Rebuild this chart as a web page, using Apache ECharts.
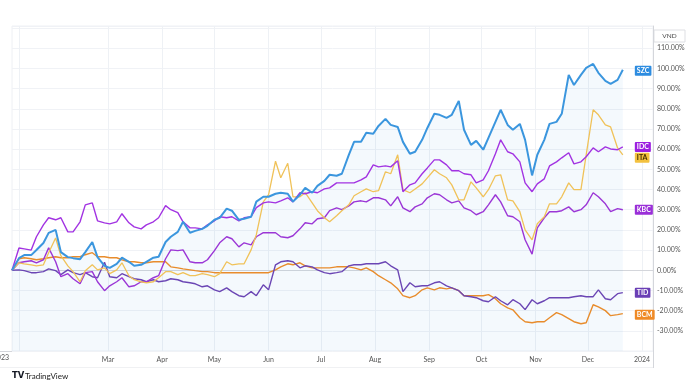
<!DOCTYPE html>
<html><head><meta charset="utf-8">
<script src="https://cdn.jsdelivr.net/npm/echarts@6.0.0/dist/echarts.min.js"></script>
<style>html,body{margin:0;padding:0;background:#fff}#c{width:692px;height:384px}</style>
</head><body><div id="c"></div>
<script>
const dates = ['2023-01-05','2023-01-09','2023-01-12','2023-01-16','2023-01-19','2023-01-23','2023-01-26','2023-01-30','2023-02-02','2023-02-06','2023-02-09','2023-02-13','2023-02-16','2023-02-20','2023-02-23','2023-02-27','2023-03-02','2023-03-06','2023-03-09','2023-03-13','2023-03-16','2023-03-20','2023-03-23','2023-03-27','2023-03-30','2023-04-03','2023-04-06','2023-04-10','2023-04-13','2023-04-17','2023-04-20','2023-04-24','2023-04-27','2023-05-01','2023-05-04','2023-05-08','2023-05-11','2023-05-15','2023-05-18','2023-05-22','2023-05-25','2023-05-29','2023-06-01','2023-06-05','2023-06-08','2023-06-12','2023-06-15','2023-06-19','2023-06-22','2023-06-26','2023-06-29','2023-07-03','2023-07-06','2023-07-10','2023-07-13','2023-07-17','2023-07-20','2023-07-24','2023-07-27','2023-07-31','2023-08-03','2023-08-07','2023-08-10','2023-08-14','2023-08-17','2023-08-21','2023-08-24','2023-08-28','2023-08-31','2023-09-04','2023-09-07','2023-09-11','2023-09-14','2023-09-18','2023-09-21','2023-09-25','2023-09-28','2023-10-02','2023-10-05','2023-10-09','2023-10-12','2023-10-16','2023-10-19','2023-10-23','2023-10-26','2023-10-30','2023-11-02','2023-11-06','2023-11-09','2023-11-13','2023-11-16','2023-11-20','2023-11-23','2023-11-27','2023-11-30','2023-12-04','2023-12-07','2023-12-11','2023-12-14','2023-12-18','2023-12-21'];

const SZC = [0,6,7.5,7.5,10,13.5,18.5,20,9,6.5, 6,5.5,9,14,6.5,2.2,1.2,3.2,6.2,4.2, 2.2,2.7,4.2,6.2,6.7,14,16.6,19,24,18.6, 19.5,20.5,22,25,26,30.5,29.5,25,25.5,26.5, 34,36.4,36.4,37.9,38.4,37.9,34,37.4,40.8,38.4, 41.8,44.3,47.3,46.8,47.8,57.2,63.6,63.6,68.1,67.6, 71.5,75,72,71,63.6,57.7,58.7,64.6,70.5,77.5, 77,75.5,77,83.9,69.6,62.1,64.1,59.7,65.6,73.5, 79.5,72,69.6,72.5,64.6,47,57.2,64.6,72.5,73.5, 77.5,96.8,91.8,96.8,100.3,102.2,97.8,93.8,92.3,94.3,99.3];
const IDC = [0,11,10.6,10,16.6,22.5,26,25,26,19, 19,24,32.4,33.4,24.5,23.5,23,24,28,23.5, 21.5,20.5,22.5,24,26,32,30,28.5,24,21, 21,20.5,22.5,24.5,26.5,26,26.5,24.5,26,26.5, 31,33.4,33.9,33.4,34.4,35.9,33.9,38.4,37.9,38.9, 38.4,40.3,40.8,43.3,43.3,43.3,43.3,44.8,46.3,52.2, 51.2,51.7,51.2,54.2,38.9,42.3,43.3,47.8,50.7,54.7, 54.7,52.2,49.3,49.3,47.8,47.3,43.3,44.8,49.3,57.7, 64.6,58.7,57.7,53.7,43.3,38.9,42.8,45.3,51.7,53.7, 55.7,58.2,52.7,53.7,56.2,60.6,58.7,61.1,60.1,59.7,61.1];
const ITA = [0,3.7,3.2,2.7,2.2,2.7,8.7,16,7.2,2.2, -0.7,-5.7,-0.2,2.7,0.2,1.2,-1.7,0.2,3.7,-2.7, -4.7,-5.7,-6.2,-5.7,-3.7,-0.7,-0.7,-2.2,-1.2,-2.7, -2.7,-1.7,-2.2,-3.2,-1.7,4.2,2.7,3.2,3.2,10.1, 17.6,33.9,37.4,54,45.8,53,36.4,36.4,38.4,33.4, 29.5,26,24,27,29.5,32.4,36.9,38.9,40.3,38.9, 39.4,48.8,47.8,57.2,39.9,38.4,40.3,42.8,45.8,49.8, 47.8,45.8,42.3,34.9,34.9,43.8,40.8,36.4,39.9,46.8, 47.3,34.9,34.4,29,20,15.1,23,26.5,32.9,32.9, 36.4,43.3,39.9,39.9,57.2,79.5,77,72,71,60.6,57.2];
const KBC = [0,3.7,4.2,4.7,3.7,5.2,11.1,4.2,-3.2,-1.7, -4.2,-6.7,-1.2,-0.7,-5.7,-10.1,-7.7,-5.7,-3.7,-8.2, -7.7,-5.7,-5.7,-3.7,-2.7,5.7,10.1,9.7,10.1,4.2, 3.7,3.7,5.2,9.7,13.6,16.6,15.6,11.6,13.6,12.6, 16.6,18.6,18.6,18.6,16.6,16.1,17.1,20.5,23.5,23, 25.5,26,29.5,30.9,30,31.9,33.9,34.4,33.9,35.9, 35.9,34.9,31.9,36.4,30.9,29,31.4,32.9,35.9,37.9, 37.4,34.9,33.4,34.4,30.9,29.5,27.5,29,32.4,37.4, 33.9,27,26.5,24,15.1,8,21,26,29,29, 29.5,31.4,29,30,32.4,38.4,36.4,32.9,29,30.5,30];
const TID = [0,0.2,-0.2,-1.2,-1.2,-0.7,0.7,-0.2,-2.2,0.2, -1.2,-2.2,-1.2,-3.2,-3.7,4,-3.2,-3.7,-1.7,-3.2, -4.2,-4.7,-5.7,-4.7,-5.7,-5.2,-4.2,-4.7,-5.7,-6.2, -6.7,-8.2,-7.7,-9.7,-10.6,-8.7,-10.6,-12.6,-13.1,-10.6, -12.6,-7.2,-9.7,2.7,4.2,4.7,4.2,1.2,2.2,1.7, 0.2,-1.2,-1.7,-1.2,-0.7,2.2,2.7,2.7,3.2,3.2, 3.2,4.2,2.2,0.2,-10.6,-6.2,-8.2,-7.7,-7.7,-6.2, -5.7,-7.7,-8.7,-10.1,-12.6,-13.1,-13.6,-15.1,-15.6,-13.1, -15.1,-17.1,-14.6,-16.6,-19.5,-14.6,-16.6,-15.1,-13.6,-13.6, -13.6,-13.6,-13.1,-12.6,-13.1,-13.1,-9.7,-14.1,-14.6,-11.6,-11.1];
const BCM = [0,5.7,6.2,5.7,5.2,5.7,6.2,6.7,6.2,6.2, 6.7,6.7,7.7,8.7,6.7,6.7,6.2,6.2,5.2,4.2, 4.2,3.7,3.7,4.2,4.2,4.2,1.7,1.2,0.7,0.2, -0.2,-0.7,-0.7,-1.2,-1.2,-1.2,-1.2,-1.2,-1.2,-1.2, -1.2,-1.2,-1.2,0.2,1.7,3.2,2.7,3.7,2.2,1.2, 1.2,1.2,1.2,1.7,1.7,1.7,1.2,0.2,1.2,-0.7, -2.7,-4.7,-6.2,-9.2,-12.6,-13.6,-12.6,-9.7,-8.7,-9.7, -8.7,-9.2,-8.7,-10.1,-12.6,-12.6,-12.6,-12.6,-12.1,-14.1, -16.6,-18.6,-19.6,-23.5,-25.5,-26,-25.5,-25.5,-23.5,-21, -22,-24,-25.5,-26.5,-26,-17.1,-18.1,-20,-22.5,-22,-21.5];

const monthNames = ['Jan','Feb','Mar','Apr','May','Jun','Jul','Aug','Sep','Oct','Nov','Dec'];
const gridDates = ['2023-01-09','2023-03-01','2023-04-01','2023-05-01','2023-06-01','2023-07-01','2023-08-01','2023-09-01','2023-10-01','2023-11-01','2023-12-01','2024-01-01'];
const firstYearLabel = '2023';

const P = s => echarts.number.parseDate(s).getTime();
const pairs = arr => dates.map((d, i) => [d, arr[i]]);
const DAY = 86400000;

function mkLine(name, arr, color, tagBg, tagText, width, dy, z) {
  return {
    name, type: 'line', data: pairs(arr), showSymbol: false, symbol: 'none', z,
    lineStyle: { color, width }, itemStyle: { color },
    emphasis: { disabled: true },
    endLabel: {
      show: true, formatter: name, color: tagText, backgroundColor: tagBg,
      fontSize: 7, fontWeight: 'bold', fontFamily: 'Lato, sans-serif',
      padding: [2, 2, 1, 2], borderRadius: 1, distance: 12, offset: [0, dy]
    }
  };
}

const chart = echarts.init(document.getElementById('c'), null, { renderer: 'canvas' });
chart.setOption({
  animation: false,
  backgroundColor: '#ffffff',
  grid: { left: 12, right: 39, top: 26, bottom: 33, containLabel: false, show: true, borderColor: '#eef0f4', borderWidth: 1 },
  xAxis: {
    type: 'time', min: P('2023-01-05'), max: P('2024-01-07 07:00'),
    minInterval: 28 * DAY, maxInterval: 31 * DAY,
    axisLine: { show: true, lineStyle: { color: '#d4d6db' } },
    axisTick: { show: false },
    splitLine: { show: false },
    axisLabel: {
      color: '#555', fontSize: 7, margin: 5, fontFamily: 'Lato, sans-serif',
      formatter: v => {
        const d = new Date(v);
        const m = d.getMonth();
        if (d.getDate() !== 1 || m === 1) return '';
        if (m === 0) return String(d.getFullYear());
        return monthNames[m];
      }
    }
  },
  yAxis: {
    type: 'value', position: 'right', min: -40, max: 121, interval: 10,
    axisLine: { show: true, lineStyle: { color: '#d4d6db' } },
    axisTick: { show: false },
    splitLine: { show: true, lineStyle: { color: '#f0f2f6' } },
    axisLabel: {
      color: '#555', fontSize: 7, margin: 4, fontFamily: 'Lato, sans-serif',
      formatter: v => (v < -30 || v > 110) ? '' : v.toFixed(2) + '%'
    }
  },
  series: [
    { name: 'grid', type: 'line', data: [], z: 0, silent: true,
      markLine: { silent: true, z: 0, zlevel: 0, symbol: 'none', label: { show: false },
        lineStyle: { color: '#eef1f5', width: 1, type: 'solid' },
        data: gridDates.map(d => ({ xAxis: P(d) })) } },
    { name: 'SZC area', type: 'line', data: pairs(SZC), showSymbol: false, symbol: 'none', z: 1, silent: true,
      lineStyle: { width: 0, opacity: 0 }, areaStyle: { color: 'rgba(41,140,220,0.07)', origin: 'start' } },
    mkLine('BCM', BCM, '#e88c2c', '#ef8a26', '#ffffff', 1.4, 1, 2),
    mkLine('TID', TID, '#6b46b4', '#6a3fb5', '#ffffff', 1.4, 0, 3),
    mkLine('KBC', KBC, '#9b36d6', '#9a2fd8', '#ffffff', 1.4, 0, 4),
    mkLine('ITA', ITA, '#f0c259', '#f3c13f', '#3b2a00', 1.3, 3, 5),
    mkLine('IDC', IDC, '#a233e2', '#9c1fe0', '#ffffff', 1.4, 0, 6),
    mkLine('SZC', SZC, '#3b96de', '#2d8ce0', '#ffffff', 2, 1, 7)
  ],
  graphic: [
    { type: 'rect', shape: { x: 654, y: 30, width: 31, height: 12 }, style: { fill: '#fff', stroke: '#dedfe3', lineWidth: 1 } },
    { type: 'text', x: 669.5, y: 36, style: { text: 'VND', fill: '#444', fontSize: 6.5, fontFamily: 'Lato, sans-serif', align: 'center', verticalAlign: 'middle' } },
    { type: 'text', x: 9, y: 357.5, style: { text: firstYearLabel, fill: '#555', fontSize: 7, fontFamily: 'Lato, sans-serif', align: 'right', verticalAlign: 'middle' } },
    { type: 'line', shape: { x1: 0, y1: 351.5, x2: 12, y2: 351.5 }, style: { stroke: '#d4d6db', lineWidth: 1 } },
    { type: 'line', shape: { x1: 653.5, y1: 351, x2: 653.5, y2: 368 }, style: { stroke: '#d4d6db', lineWidth: 1 } },
    { type: 'line', shape: { x1: 0, y1: 367.5, x2: 653, y2: 367.5 }, style: { stroke: '#f0f1f3', lineWidth: 1 } },
    { type: 'text', x: 12, y: 376, style: { text: 'TV', fill: '#131722', fontSize: 8.5, fontWeight: 900, fontFamily: 'DejaVu Sans, sans-serif', verticalAlign: 'middle' } },
    { type: 'text', x: 25, y: 376, style: { text: 'TradingView', fill: '#222', fontSize: 8, fontFamily: 'Lato, sans-serif', verticalAlign: 'middle' } }
  ]
});
</script>
</body></html>
